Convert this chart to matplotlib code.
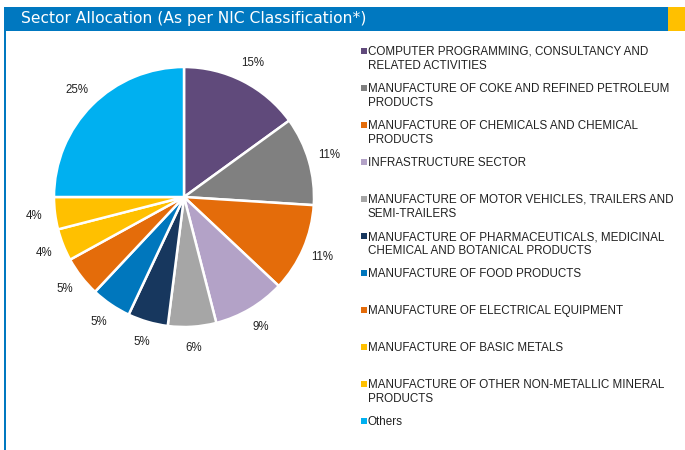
import matplotlib
matplotlib.use("Agg")
import matplotlib.pyplot as plt
from matplotlib.patches import Rectangle

# Sector allocation data (percent of portfolio)
sectors = [
    "COMPUTER PROGRAMMING, CONSULTANCY AND\nRELATED ACTIVITIES",
    "MANUFACTURE OF COKE AND REFINED PETROLEUM\nPRODUCTS",
    "MANUFACTURE OF CHEMICALS AND CHEMICAL\nPRODUCTS",
    "INFRASTRUCTURE SECTOR",
    "MANUFACTURE OF MOTOR VEHICLES, TRAILERS AND\nSEMI-TRAILERS",
    "MANUFACTURE OF PHARMACEUTICALS, MEDICINAL\nCHEMICAL AND BOTANICAL PRODUCTS",
    "MANUFACTURE OF FOOD PRODUCTS",
    "MANUFACTURE OF ELECTRICAL EQUIPMENT",
    "MANUFACTURE OF BASIC METALS",
    "MANUFACTURE OF OTHER NON-METALLIC MINERAL\nPRODUCTS",
    "Others",
]
weights = [15, 11, 11, 9, 6, 5, 5, 5, 4, 4, 25]
colors = ["#604A7B", "#808080", "#E46C0A", "#B3A2C7", "#A6A6A6", "#17375E",
          "#0077BD", "#E46C0A", "#FFC000", "#FFC000", "#00B0F0"]

title = "Sector Allocation (As per NIC Classification*)"

W, H = 685, 450
fig = plt.figure(figsize=(W / 100, H / 100), dpi=100)
fig.patch.set_facecolor("white")

def fx(px):
    return px / W

def fy(py):
    return 1 - py / H

# Header bar with accent block and left border
fig.patches.append(Rectangle((fx(4), fy(31)), fx(664), 24 / H, transform=fig.transFigure,
                             facecolor="#0078C0", edgecolor="none"))
fig.patches.append(Rectangle((fx(668), fy(31)), fx(17), 24 / H, transform=fig.transFigure,
                             facecolor="#FFC000", edgecolor="none"))
fig.patches.append(Rectangle((fx(4), 0), fx(2), fy(31), transform=fig.transFigure,
                             facecolor="#0078C0", edgecolor="none"))
fig.text(fx(21), fy(19), title, color="white", fontsize=11.2, va="center", ha="left",
         family=["DejaVu Sans"])

# Pie chart
cx, cy, r = 184, 197, 130
ax = fig.add_axes([fx(cx - r), fy(cy + r), 2 * r / W, 2 * r / H])
ax.pie(weights, colors=colors, startangle=90, counterclock=False, radius=1,
       autopct=lambda p: f"{p:.0f}%", pctdistance=1.16,
       wedgeprops=dict(edgecolor="white", linewidth=1.8),
       textprops=dict(fontsize=8.3, color="#222222", family=["Liberation Sans", "DejaVu Sans"]))
ax.set_xlim(-1, 1)
ax.set_ylim(-1, 1)
ax.set_aspect("equal")
ax.axis("off")

# Legend drawn as marker squares with wrapped labels
y0, step = 51, 37
for i, (name, col) in enumerate(zip(sectors, colors)):
    yc = y0 + step * i
    fig.patches.append(Rectangle((fx(361), fy(yc + 3)), fx(6), 6 / H,
                                 transform=fig.transFigure, facecolor=col, edgecolor="none"))
    fig.text(fx(368), fy(yc - 5), name, fontsize=8.4, color="#222222", va="top", ha="left",
             linespacing=1.17, family=["Liberation Sans", "DejaVu Sans"])

fig.savefig("out.png", dpi=100)
